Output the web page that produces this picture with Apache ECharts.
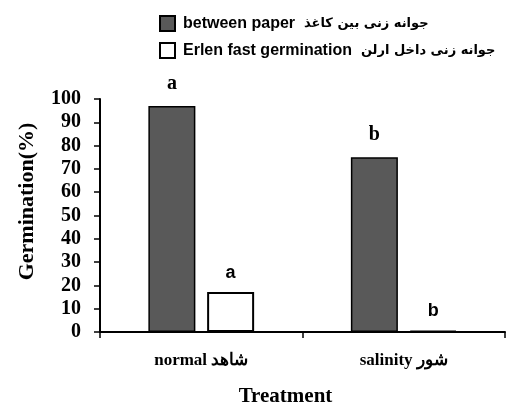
<!DOCTYPE html>
<html>
<head>
<meta charset="utf-8">
<style>
  html, body { margin: 0; padding: 0; background: #fff; }
  #chart { width: 508px; height: 409px; }
</style>
<script src="https://cdn.jsdelivr.net/npm/echarts@6/dist/echarts.min.js"></script>
</head>
<body>
<div id="chart"></div>
<script>
// categories and values
var categories = ['normal شاهد', 'salinity شور'];
var paperValues = [97, 75];
var erlenValues = [17.2, 0.5];
var paperLetters = ['a', 'b'];
var erlenLetters = ['a', 'b'];
var enNames = ['between paper', 'Erlen fast germination'];
var faNames = ['جوانه زنی بین کاغذ', 'جوانه زنی داخل ارلن'];
var seriesNames = [enNames[0] + ' ' + faNames[0], enNames[1] + ' ' + faNames[1]];

var serif = '"Liberation Serif", "Times New Roman", serif';
var sans = '"Liberation Sans", "DejaVu Sans", sans-serif';

var myChart = echarts.init(document.getElementById('chart'));

function letterLabels(values, letters, font, size, dist) {
  return values.map(function (v, i) {
    return {
      value: v,
      label: {
        show: true,
        position: 'top',
        distance: dist,
        formatter: letters[i],
        color: '#000',
        fontWeight: 'bold',
        fontSize: size,
        fontFamily: font
      }
    };
  });
}

var option = {
  animation: false,
  backgroundColor: '#fff',
  grid: { left: 100, right: 3, top: 99, bottom: 77, outerBoundsMode: 'none', containLabel: false },
  legend: {
    orient: 'vertical',
    left: 154,
    top: 10,
    itemGap: 10,
    itemWidth: 15,
    itemHeight: 15,
    icon: 'rect',
    data: seriesNames,
    formatter: function (name) {
      var i = seriesNames.indexOf(name);
      return '{en|' + enNames[i] + '}{fa|' + faNames[i] + '}';
    },
    textStyle: {
      color: '#000',
      padding: [0, 0, 0, 3],
      rich: {
        en: { color: '#000', fontWeight: 'bold', fontSize: 16, fontFamily: sans, lineHeight: 20 },
        fa: { color: '#000', fontWeight: 'bold', fontSize: 13, fontFamily: '"DejaVu Sans", sans-serif', lineHeight: 20, padding: [0, 0, 0, 9] }
      }
    }
  },
  xAxis: {
    type: 'category',
    data: categories,
    name: 'Treatment',
    nameLocation: 'middle',
    nameGap: 54,
    nameTextStyle: { color: '#000', fontWeight: 'bold', fontSize: 21, fontFamily: serif, padding: [0, 34, 0, 0] },
    axisLine: { lineStyle: { color: '#000', width: 2 } },
    axisTick: { show: true, length: 6, lineStyle: { color: '#000', width: 1.5 } },
    axisLabel: { color: '#000', fontWeight: 'bold', fontSize: 17, fontFamily: serif, margin: 20 }
  },
  yAxis: {
    type: 'value',
    min: 0,
    max: 100,
    interval: 10,
    name: 'Germination(%)',
    nameLocation: 'middle',
    nameGap: 62,
    nameTextStyle: { color: '#000', fontWeight: 'bold', fontSize: 22, fontFamily: serif, padding: [0, 0, 0, 28] },
    axisLine: { show: true, lineStyle: { color: '#000', width: 2 } },
    axisTick: { show: true, length: 6, lineStyle: { color: '#000', width: 1.5 } },
    axisLabel: { color: '#000', fontWeight: 'bold', fontSize: 20, fontFamily: serif, margin: 19 },
    splitLine: { show: false }
  },
  series: [
    {
      name: seriesNames[0],
      type: 'bar',
      barWidth: 47,
      barGap: '25%',
      itemStyle: { color: '#595959', borderColor: '#000', borderWidth: 1.5 },
      data: letterLabels(paperValues, paperLetters, serif, 20, 12)
    },
    {
      name: seriesNames[1],
      type: 'bar',
      barWidth: 47,
      itemStyle: { color: '#fff', borderColor: '#000', borderWidth: 2 },
      data: letterLabels(erlenValues, erlenLetters, sans, 18, 10)
    }
  ]
};

myChart.setOption(option);
window.addEventListener('resize', function () { myChart.resize(); });
</script>
</body>
</html>
